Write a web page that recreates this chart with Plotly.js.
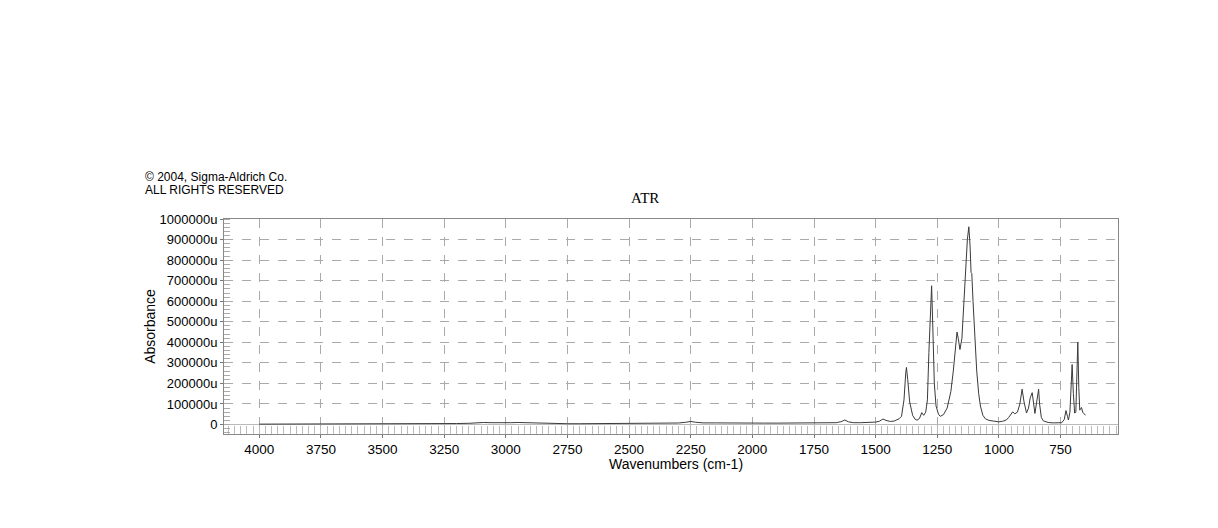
<!DOCTYPE html>
<html>
<head>
<meta charset="utf-8">
<script src="https://cdn.plot.ly/plotly-3.0.1.min.js"></script>
<style>
  html, body { margin: 0; padding: 0; background: #fff; }
  #spectrum { width: 1218px; height: 528px; }
</style>
</head>
<body>
<div id="spectrum"></div>
<script>
// wavenumbers (cm-1) and absorbance
var wavenumbers = [
  4000, 3950, 3900, 3850, 3800, 3750, 3700, 3650, 3600, 3550, 3500, 3450, 3400, 3350,
  3300, 3250, 3200, 3150, 3120, 3090, 3060, 3030, 3000, 2980, 2950, 2920, 2900, 2850,
  2800, 2750, 2700, 2650, 2600, 2550, 2500, 2450, 2400, 2350, 2300, 2270, 2250, 2230,
  2200, 2150, 2100, 2050, 2000, 1950, 1900, 1850, 1800, 1750, 1700, 1660, 1640, 1625,
  1610, 1590, 1560, 1530, 1500, 1485, 1470, 1458, 1440, 1425, 1415, 1405, 1395, 1385,
  1378, 1375, 1370, 1362, 1350, 1340, 1332, 1322, 1313, 1305, 1297, 1290, 1284, 1278,
  1273, 1268, 1262, 1255, 1245, 1238, 1225, 1210, 1195, 1185, 1178, 1170, 1165, 1158,
  1150, 1142, 1135, 1128, 1122, 1117, 1113, 1110, 1105, 1098, 1090, 1082, 1075, 1065,
  1055, 1040, 1020, 1000, 985, 970, 960, 952, 944, 936, 925, 915, 906, 898,
  888, 880, 873, 865, 859, 854, 848, 842, 839, 835, 828, 820, 800, 780,
  760, 745, 735, 728, 722, 718, 712, 707, 703, 698, 693, 688, 684, 680,
  676, 672, 668, 665, 660, 653, 649
];
var absorbance = [
  2000, 2000, 2000, 2000, 2500, 2500, 2500, 2500, 3000, 3000, 3000, 3000, 3500, 3500,
  4000, 4000, 5000, 6000, 9000, 10000, 9000, 8000, 7000, 9000, 10000, 9000, 6000, 5000,
  4000, 4000, 4000, 4500, 4500, 5000, 5000, 5500, 6000, 7000, 7500, 11000, 15000, 11000,
  8000, 8000, 7000, 6000, 6000, 7000, 7000, 7000, 7500, 8000, 8000, 9000, 14000, 22000,
  13000, 9000, 9000, 10000, 12000, 16000, 27000, 20000, 15000, 17000, 24000, 28000, 40000, 120000,
  250000, 278000, 220000, 110000, 45000, 26000, 21000, 30000, 58000, 45000, 60000, 120000, 350000, 520000,
  675000, 470000, 200000, 90000, 50000, 40000, 48000, 80000, 160000, 260000, 370000, 450000, 420000, 365000,
  420000, 600000, 800000, 900000, 962000, 870000, 740000, 735000, 600000, 420000, 260000, 150000, 90000, 45000,
  28000, 20000, 15000, 13000, 16000, 22000, 35000, 50000, 62000, 52000, 60000, 100000, 172000, 110000,
  56000, 80000, 130000, 155000, 100000, 54000, 100000, 165000, 172000, 100000, 35000, 18000, 10000, 8000,
  8000, 9000, 25000, 68000, 40000, 22000, 60000, 180000, 292000, 150000, 56000, 60000, 200000, 400000,
  180000, 70000, 78000, 83000, 60000, 50000, 45000
];

// axis ticks
var xTicks = [4000, 3750, 3500, 3250, 3000, 2750, 2500, 2250, 2000, 1750, 1500, 1250, 1000, 750];
var yTicks = [0, 100000, 200000, 300000, 400000, 500000, 600000, 700000, 800000, 900000, 1000000];
var yTickLabels = ['0', '100000u', '200000u', '300000u', '400000u', '500000u',
                   '600000u', '700000u', '800000u', '900000u', '1000000u'];

var trace = {
  x: wavenumbers,
  y: absorbance,
  type: 'scatter',
  mode: 'lines',
  line: { color: '#3a3a3a', width: 1 },
  hoverinfo: 'x+y'
};

var sans = 'Liberation Sans, Arial, sans-serif';

// plot box is 894 x 215 px; annotations below are placed in paper units of that box
function px2paperX(px) { return (px - 224) / 894; }
function px2paperY(py) { return (434 - py) / 215; }

var layout = {
  width: 1218,
  height: 528,
  margin: { l: 224, r: 100, t: 219, b: 94 },
  paper_bgcolor: '#fff',
  plot_bgcolor: '#fff',
  showlegend: false,
  font: { family: sans, size: 13, color: '#000' },
  xaxis: {
    range: [4143, 517],
    tickvals: xTicks,
    ticks: 'outside', ticklen: 3, tickcolor: '#777',
    tickfont: { family: sans, size: 13.5 },
    showline: true, mirror: true, linecolor: '#888', linewidth: 1,
    showgrid: true, gridcolor: '#aaa', griddash: 'dash', gridwidth: 1,
    zeroline: false,
    minor: { dtick: 25, tick0: 0, ticks: 'inside', ticklen: 8, tickcolor: '#bbb', showgrid: false },
    automargin: false
  },
  yaxis: {
    range: [-46000, 1000000],
    tickvals: yTicks,
    ticktext: yTickLabels,
    ticks: 'outside', ticklen: 3, tickcolor: '#777',
    tickfont: { family: sans, size: 13 },
    showline: true, mirror: true, linecolor: '#888', linewidth: 1,
    showgrid: true, gridcolor: '#aaa', griddash: 'dash', gridwidth: 1,
    zeroline: true, zerolinecolor: '#bbb', zerolinewidth: 1,
    minor: { dtick: 20000, tick0: 0, ticks: 'inside', ticklen: 6, tickcolor: '#aaa', showgrid: false },
    title: { text: 'Absorbance', font: { family: sans, size: 14 }, standoff: 0 },
    automargin: false
  },
  annotations: [
    {
      text: 'ATR',
      xref: 'paper', yref: 'paper',
      x: px2paperX(645), y: px2paperY(198), xanchor: 'center', yanchor: 'middle',
      showarrow: false,
      font: { family: 'Liberation Serif, Times New Roman, serif', size: 15, color: '#000' }
    },
    {
      text: 'Wavenumbers (cm-1)',
      xref: 'paper', yref: 'paper',
      x: px2paperX(676), y: px2paperY(464), xanchor: 'center', yanchor: 'middle',
      showarrow: false,
      font: { family: sans, size: 14, color: '#000' }
    },
    {
      text: '© 2004, Sigma-Aldrich Co.',
      xref: 'paper', yref: 'paper',
      x: px2paperX(143), y: px2paperY(177), xanchor: 'left', yanchor: 'middle',
      showarrow: false,
      font: { family: sans, size: 12, color: '#000' }
    },
    {
      text: 'ALL RIGHTS RESERVED',
      xref: 'paper', yref: 'paper',
      x: px2paperX(143), y: px2paperY(190), xanchor: 'left', yanchor: 'middle',
      showarrow: false,
      font: { family: sans, size: 12, color: '#000' }
    }
  ]
};

Plotly.newPlot('spectrum', [trace], layout, { displayModeBar: false, staticPlot: true });
</script>
</body>
</html>
